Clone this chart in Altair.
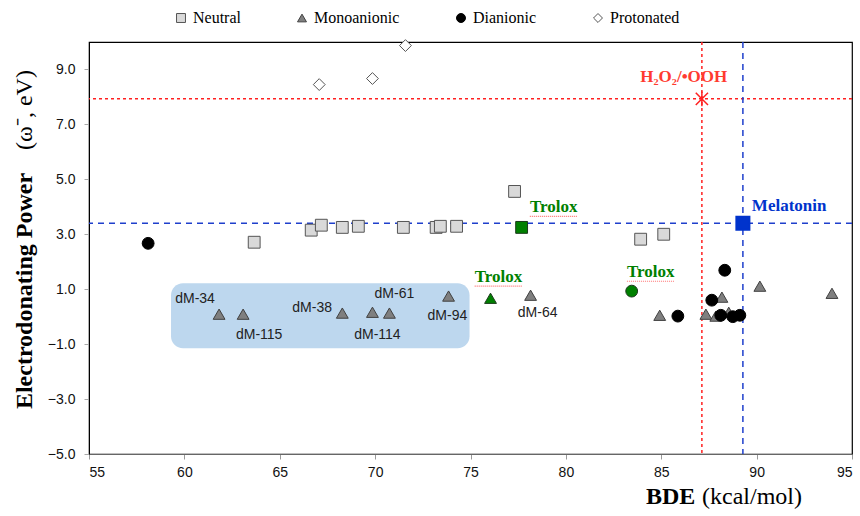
import altair as alt
import pandas as pd

# ---------------- data ----------------
neutral_bde = [63.66, 66.65, 67.18, 68.28, 69.12, 71.48, 73.20, 73.42, 74.27, 77.31, 83.92, 85.13]
neutral_w = [2.71, 3.15, 3.33, 3.25, 3.29, 3.25, 3.25, 3.29, 3.29, 4.56, 2.82, 3.00]

mono_bde = [61.82, 63.08, 68.28, 69.86, 70.75, 73.85, 78.15, 84.92, 87.34, 87.86, 88.18, 88.54, 90.17, 93.95]
mono_w = [0.09, 0.09, 0.13, 0.16, 0.13, 0.75, 0.78, 0.05, 0.09, 0.02, 0.71, 0.16, 1.11, 0.85]

dian_bde = [58.1, 85.87, 87.65, 88.12, 88.33, 88.75, 89.12]
dian_w = [2.67, 0.02, 0.60, 0.05, 1.69, 0.00, 0.05]

prot_bde = [67.07, 69.86, 71.59]
prot_w = [8.45, 8.67, 9.87]

categories = ["Neutral", "Monoanionic", "Dianionic", "Protonated"]

trolox_bde = [77.68, 76.05, 83.45]
trolox_w = [3.25, 0.67, 0.93]
trolox_shape = ["square", "triangle-up", "circle"]

melatonin_bde = [89.28]
melatonin_w = [3.40]

ref_bde = [87.13]   # H2O2/•OOH
ref_w = [7.93]

box_bde = [59.3, 74.95]
box_w = [1.22, -1.15]

dm_labels = ["dM-34", "dM-115", "dM-38", "dM-61", "dM-114", "dM-94", "dM-64"]
dm_label_bde = [60.56, 63.92, 66.70, 71.01, 70.12, 73.79, 78.52]
dm_label_w = [0.64, -0.67, 0.31, 0.82, -0.67, 0.02, 0.13]

trolox_label_bde = [79.36, 76.47, 84.45]
trolox_label_w = [3.98, 1.44, 1.62]

x_ticks = [55, 60, 65, 70, 75, 80, 85, 90, 95]
y_ticks = [-5, -3, -1, 1, 3, 5, 7, 9]

# ---------------- tables ----------------
rows = []
for b, w in zip(neutral_bde, neutral_w):
    rows.append({"bde": b, "w": w, "type": "Neutral"})
for b, w in zip(mono_bde, mono_w):
    rows.append({"bde": b, "w": w, "type": "Monoanionic"})
for b, w in zip(dian_bde, dian_w):
    rows.append({"bde": b, "w": w, "type": "Dianionic"})
for b, w in zip(prot_bde, prot_w):
    rows.append({"bde": b, "w": w, "type": "Protonated"})
pts = pd.DataFrame(rows)

W, H = 763, 412
xs = alt.Scale(domain=[55, 95], nice=False, zero=False)
ys = alt.Scale(domain=[-5, 10], nice=False, zero=False)

xaxis = alt.Axis(values=x_ticks, title=None, grid=False,
                 labelFont="Liberation Sans", labelFontSize=14, labelColor="#111",
                 tickColor="#999", tickSize=5, domainColor="#666", labelPadding=6)
yaxis = alt.Axis(values=y_ticks, format=".1f", title=None, grid=False,
                 labelFont="Liberation Sans", labelFontSize=14, labelColor="#111",
                 tickColor="#aaa", tickSize=5, domainColor="#000", labelPadding=9)


def fx(f="bde"):
    return alt.X(f + ":Q", scale=xs, axis=xaxis, title=None)


def fy(f="w"):
    return alt.Y(f + ":Q", scale=ys, axis=yaxis, title=None)


# highlight box
box = alt.Chart(pd.DataFrame({"bde": [box_bde[0]], "x2": [box_bde[1]], "w": [box_w[0]], "y2": [box_w[1]]})).mark_rect(
    cornerRadius=12, color="#BDD7EE").encode(x=fx(), x2="x2:Q", y=fy(), y2="y2:Q")

# reference lines
red_h = alt.Chart(pd.DataFrame({"w": ref_w})).mark_rule(color="#FF2020", strokeDash=[3, 3], strokeWidth=1.5).encode(y=fy())
red_v = alt.Chart(pd.DataFrame({"bde": ref_bde})).mark_rule(color="#FF2020", strokeDash=[3, 3], strokeWidth=1.5).encode(x=fx())
blue_h = alt.Chart(pd.DataFrame({"w": melatonin_w})).mark_rule(color="#1F3FCC", strokeDash=[6, 5], strokeWidth=1.5).encode(y=fy())
blue_v = alt.Chart(pd.DataFrame({"bde": melatonin_bde})).mark_rule(color="#1F3FCC", strokeDash=[6, 5], strokeWidth=1.5).encode(x=fx())

legend = alt.Legend(title=None, orient="none", legendX=84, legendY=-32, direction="horizontal",
                    labelFont="Liberation Serif", labelFontSize=16, labelColor="#000",
                    symbolSize=80, symbolStrokeWidth=1, columnPadding=53, labelOffset=4, padding=0)

scatter = alt.Chart(pts).mark_point(filled=True, size=140, opacity=1, strokeWidth=1).encode(
    x=fx(), y=fy(),
    shape=alt.Shape("type:N", scale=alt.Scale(domain=categories,
                    range=["square", "triangle-up", "circle", "diamond"]), legend=legend),
    fill=alt.Fill("type:N", scale=alt.Scale(domain=categories,
                  range=["#D9D9D9", "#7F7F7F", "#000000", "#FFFFFF"]), legend=legend),
    stroke=alt.Stroke("type:N", scale=alt.Scale(domain=categories,
                      range=["#555555", "#404040", "#000000", "#555555"]), legend=legend),
)

trolox_layers = []
for b, w, s in zip(trolox_bde, trolox_w, trolox_shape):
    trolox_layers.append(
        alt.Chart(pd.DataFrame({"bde": [b], "w": [w]})).mark_point(
            filled=True, shape=s, size=140, fill="#008000", stroke="#1a3a1a", strokeWidth=1, opacity=1
        ).encode(x=fx(), y=fy())
    )

mel_pt = alt.Chart(pd.DataFrame({"bde": melatonin_bde, "w": melatonin_w})).mark_point(
    filled=True, shape="square", size=170, fill="#0033CC", stroke="#0033CC", opacity=1).encode(x=fx(), y=fy())

star = alt.Chart(pd.DataFrame({"bde": ref_bde, "w": ref_w})).mark_point(
    shape="M-1,-1L1,1M-1,1L1,-1M0,-1.2L0,1.2", size=150, filled=False, stroke="#FF2020",
    strokeWidth=1.5, opacity=1).encode(x=fx(), y=fy())

# annotations
dm_text = alt.Chart(pd.DataFrame({"bde": dm_label_bde, "w": dm_label_w, "t": dm_labels})).mark_text(
    font="Liberation Sans", fontSize=14, color="#222").encode(x=fx(), y=fy(), text="t:N")

trolox_text = alt.Chart(pd.DataFrame({"bde": trolox_label_bde, "w": trolox_label_w,
                                      "t": ["Trolox"] * len(trolox_label_bde)})).mark_text(
    font="Liberation Serif", fontSize=17, fontWeight="bold", color="#008000").encode(x=fx(), y=fy(), text="t:N")

trolox_ul = alt.Chart(pd.DataFrame({"bde": [b - 1.25 for b in trolox_label_bde],
                                    "x2": [b + 1.25 for b in trolox_label_bde],
                                    "w": [w - 0.33 for w in trolox_label_w]})).mark_rule(
    color="#FF7070", strokeDash=[1, 1], strokeWidth=1.2).encode(x=fx(), x2="x2:Q", y=fy())

mel_text = alt.Chart(pd.DataFrame({"bde": [89.75], "w": [4.02], "t": ["Melatonin"]})).mark_text(
    font="Liberation Serif", fontSize=17, fontWeight="bold", color="#0033CC", align="left").encode(
    x=fx(), y=fy(), text="t:N")

h2o2_text = alt.Chart(pd.DataFrame({"bde": [86.18], "w": [8.71], "t": ["H₂O₂/•OOH"]})).mark_text(
    font="Liberation Serif", fontSize=17, fontWeight="bold", color="#FF3B30").encode(
    x=fx(), y=fy(), text="t:N")

one = pd.DataFrame({"a": [0]})
ytitle_b = alt.Chart(one).mark_text(text="Electrodonating Power", font="Liberation Serif", fontSize=24,
                                    fontWeight="bold", angle=270, baseline="middle", color="#000").encode(
    x=alt.value(-64), y=alt.value(249))
ytitle_n = alt.Chart(one).mark_text(text="(ω⁻, eV)", font="Liberation Serif", fontSize=24,
                                    angle=270, baseline="middle", color="#000").encode(
    x=alt.value(-64), y=alt.value(68))
xtitle_b = alt.Chart(one).mark_text(text="BDE", font="Liberation Serif", fontSize=24, fontWeight="bold",
                                    align="left", baseline="middle", color="#000").encode(
    x=alt.value(557), y=alt.value(455))
xtitle_n = alt.Chart(one).mark_text(text="(kcal/mol)", font="Liberation Serif", fontSize=24,
                                    align="left", baseline="middle", color="#000").encode(
    x=alt.value(613), y=alt.value(455))

chart = alt.layer(
    box, red_h, red_v, blue_h, blue_v, scatter, *trolox_layers, mel_pt, star,
    dm_text, trolox_ul, trolox_text, mel_text, h2o2_text,
    ytitle_b, ytitle_n, xtitle_b, xtitle_n
).properties(
    width=W, height=H,
    background="white",
    autosize=alt.AutoSizeParams(type="none"),
    padding={"left": 89, "top": 42, "right": 8, "bottom": 62},
).configure_view(stroke="#000", strokeWidth=1.2).configure_legend(
    labelFont="Liberation Serif", labelFontSize=16, labelColor="#000",
    symbolSize=80, symbolStrokeWidth=1, columnPadding=53, labelOffset=4, padding=0
)

chart.save("out.html", embed_options={"renderer": "svg", "actions": False})
